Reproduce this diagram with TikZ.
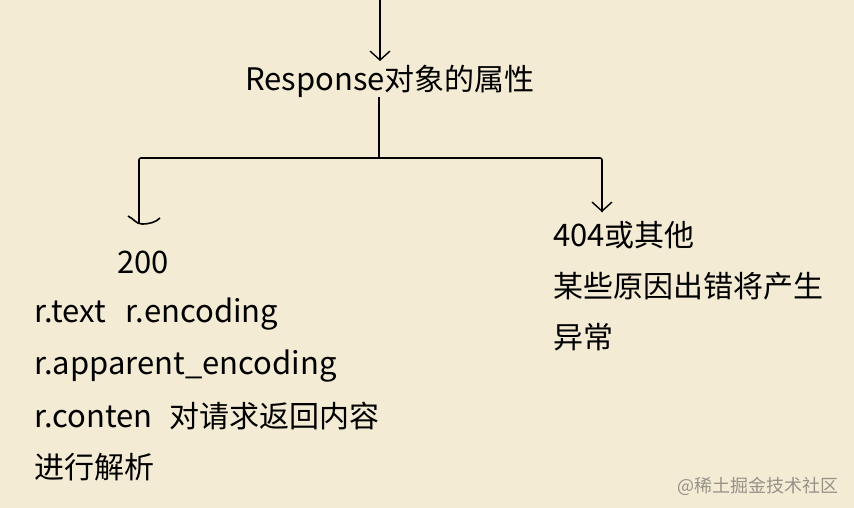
\documentclass[tikz,border=0pt]{standalone}
\usepackage{fontspec}
\setmainfont{Noto Sans CJK SC}
\usetikzlibrary{arrows.meta}
\definecolor{bg}{RGB}{243,235,212}
\definecolor{wm}{RGB}{150,146,136}
\newcommand{\lat}[1]{{\fontsize{31}{32}\selectfont #1}}
\begin{document}
\begin{tikzpicture}[x=1pt,y=-1pt,
  txt/.style={inner sep=0pt, anchor=base west, font=\fontsize{30}{32}\selectfont},
  conn/.style={line width=1.6pt, black},
  barb/.style={-{Straight Barb[length=9pt,width=20pt,line width=1.4pt]}}]
\fill[bg] (0,0) rectangle (854,508);
\useasboundingbox (0,0) rectangle (854,508);
% texts
\node[txt] (title) at (245,91) {\lat{Response}对象的属性};
\node[txt] (ok) at (117,273) {\lat{200}};
\node[txt] (l1) at (34,322) {\lat{r.text\hspace{20pt}r.encoding}};
\node[txt] (l2) at (34,374) {\lat{r.apparent\_encoding}};
\node[txt] (l3) at (34,427) {\lat{r.conten\hspace{17pt}}对请求返回内容};
\node[txt] (l4) at (34,478) {进行解析};
\node[txt] (err) at (553,246) {\lat{404}或其他};
\node[txt] (r1) at (553,297) {某些原因出错将产生};
\node[txt] (r2) at (553,348) {异常};
\node[inner sep=0pt, anchor=base west, text=wm, font=\fontsize{18}{19}\selectfont] (mark) at (677,492) {@稀土掘金技术社区};
% connectors
\coordinate (top) at (380,0);
\coordinate (stem) at (379,97);
\coordinate (junc) at (379,158);
\coordinate (lc) at (139,158);
\coordinate (rc) at (602,158);
\coordinate (lend) at (139,223);
\coordinate (rend) at (602,212);
\draw[conn,barb] (top) -- (380,61);
\draw[conn] (stem) -- (junc);
\draw[conn, rounded corners=2pt] (lend) -- (lc) -- (rc) -- (rend);
\draw[conn,barb] (602,190) -- (rend);
% hand-drawn cup-shaped head on the left branch
\draw[conn] (128,216) .. controls (134,219) and (136,224) .. (142,224)
            .. controls (150,224) and (156,222) .. (160,218);
\end{tikzpicture}
\end{document}
